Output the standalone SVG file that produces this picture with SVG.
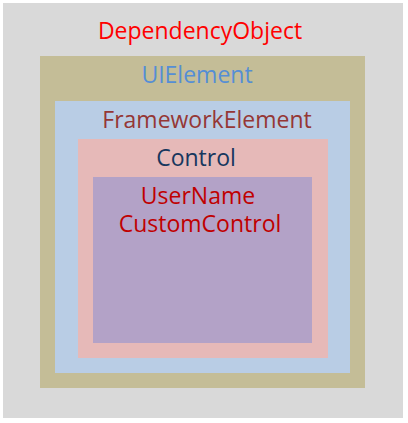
<svg xmlns="http://www.w3.org/2000/svg" width="408" height="423" viewBox="0 0 408 423">
<style>
text{font-family:"Open Sans","Noto Sans","DejaVu Sans",sans-serif;font-size:23px;text-anchor:middle}
</style>
<rect width="408" height="423" fill="#ffffff"/>
<g id="dependencyobject">
<rect x="3" y="3" width="400" height="415" fill="#d9d9d9"/>
<text x="200" y="39" fill="#ff0000">DependencyObject</text>
</g>
<g id="uielement">
<rect x="40" y="56" width="325" height="332" fill="#c4bd97"/>
<text x="197" y="83" fill="#558ed5">UIElement</text>
</g>
<g id="frameworkelement">
<rect x="55" y="101" width="295" height="272" fill="#b9cde5"/>
<text x="207" y="128" fill="#953735">FrameworkElement</text>
</g>
<g id="control">
<rect x="78" y="139" width="250" height="219" fill="#e6b9b8"/>
<text x="196" y="166" fill="#17375e">Control</text>
</g>
<g id="usernamecustomcontrol">
<rect x="93" y="177" width="219" height="166" fill="#b3a2c7"/>
<text x="198" y="204" fill="#c00000">UserName</text>
<text x="200" y="232" fill="#c00000">CustomControl</text>
</g>
<g id="connectors"/>
</svg>
